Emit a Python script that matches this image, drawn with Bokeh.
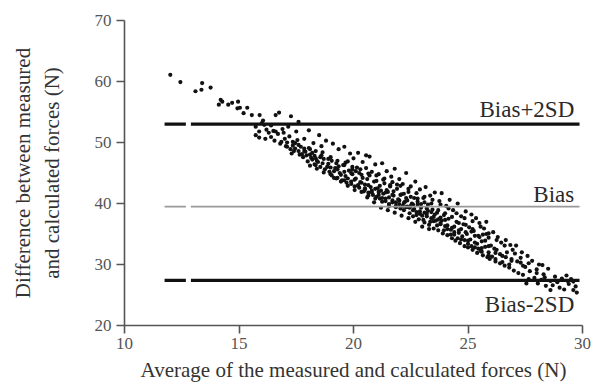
from bokeh.plotting import figure
from bokeh.models import Range1d, FixedTicker
from bokeh.core.properties import value
from bokeh.embed import file_html
from bokeh.resources import INLINE

# ---- data: average (x) and difference (y) of measured/calculated forces ----
avg_head = [12.0, 12.44, 13.1, 13.36, 13.39, 13.76, 14.2, 14.12, 14.27, 14.53,
            14.7, 14.96, 14.93, 15.04, 15.36, 15.2, 15.56, 15.9, 16.0, 15.73,
            15.88, 15.73, 15.88, 16.1, 16.2, 16.05, 16.3, 16.4, 16.15, 16.5]
diff_head = [61.1, 59.9, 58.4, 58.65, 59.75, 59.0, 57.0, 56.2, 56.7, 56.2,
             56.5, 56.7, 55.6, 55.7, 55.7, 54.8, 54.5, 54.5, 53.2, 52.6,
             51.8, 51.2, 50.8, 52.9, 52.1, 53.6, 51.6, 52.8, 50.6, 51.9]

avg_body = [16.6, 16.75, 17.27, 17.6, 16.55, 16.7, 16.8, 16.9, 17.0, 17.1,
            17.2, 17.3, 17.35, 17.45, 17.5, 16.95, 17.15, 17.4, 17.55, 17.65,
            17.7, 17.8, 17.85, 17.9, 18.0, 18.05, 18.1, 18.2, 18.25, 18.3,
            18.35, 18.4, 18.5, 18.55, 18.6, 18.7, 18.75, 18.8, 18.9, 18.95,
            19.0, 19.05, 19.1, 19.2, 19.25, 19.3, 19.35, 19.4, 19.5, 19.55,
            19.6, 19.65, 19.7, 19.75, 19.8, 19.85, 19.9, 19.95, 20.0, 20.05,
            20.1, 20.15, 20.2, 20.25, 20.3, 20.35, 20.4, 20.45, 20.5, 20.55,
            20.6, 20.65, 20.7, 20.75, 20.8, 20.85, 20.9, 20.95, 21.0, 21.05,
            21.1, 21.15, 21.2, 21.25, 21.3, 21.35, 21.4, 21.45, 21.5, 21.55,
            21.6, 21.65, 21.7, 21.75, 21.8, 21.85, 21.9, 21.95, 22.0, 22.05,
            22.1, 22.15, 22.2, 22.25, 22.3, 22.35, 22.4, 22.45, 22.5, 22.55,
            22.6, 22.65, 22.7, 22.75, 22.8, 22.85, 22.9, 22.95, 23.0, 23.05,
            23.1, 23.15, 23.2, 23.25, 23.3, 23.35, 23.4, 23.45, 23.5, 23.55,
            23.6, 23.65, 23.7, 23.75, 23.8, 23.85, 23.9, 23.95, 24.0, 24.05,
            24.1, 24.15, 24.2, 24.25, 24.3, 24.35, 24.4, 24.45, 24.5, 24.55,
            24.6, 24.65, 24.7, 24.75, 24.8, 24.85, 24.9, 24.95, 25.0, 25.05,
            25.1, 25.15, 25.2, 25.25, 25.3, 25.35, 25.4, 25.45, 25.5, 25.55,
            25.6, 25.65, 25.7, 25.75, 25.8, 25.85, 25.9, 25.95, 26.0, 26.1,
            26.2, 26.25, 26.3, 26.4, 26.45, 26.5, 26.6, 26.65, 26.7, 26.8,
            26.85, 26.9, 27.0, 27.05, 27.1, 27.2, 27.3, 27.35, 27.4, 27.5,
            27.6, 27.65, 27.7, 27.8, 27.9, 28.0, 28.05, 28.1, 28.2, 28.3,
            28.4, 28.5, 28.6, 28.6, 28.7, 28.8, 28.9, 29.0, 29.1, 29.2,
            29.3, 29.35, 29.4, 29.5, 29.6, 29.6, 29.7, 29.75, 28.25, 27.55]
diff_body = [54.5, 54.9, 54.3, 53.4, 50.3, 51.4, 49.8, 52.2, 50.6, 49.3,
             51.0, 48.2, 50.1, 49.0, 51.8, 51.6, 52.6, 48.6, 50.4, 48.0,
             49.3, 47.6, 50.6, 48.5, 46.9, 52.0, 48.0, 47.2, 49.9, 46.4,
             48.6, 47.0, 51.2, 46.0, 49.4, 47.3, 45.6, 50.3, 46.5, 45.2,
             47.6, 44.6, 49.8, 45.8, 44.1, 47.0, 48.9, 45.0, 43.8, 46.3,
             49.3, 44.5, 43.4, 46.9, 45.4, 48.2, 43.6, 44.8, 47.4, 42.8,
             44.1, 45.9, 48.3, 42.6, 43.5, 44.7, 46.8, 42.0, 43.1, 47.9,
             44.0, 41.8, 47.7, 42.7, 45.2, 41.4, 43.6, 46.4, 41.1, 42.5,
             44.8, 40.8, 42.1, 46.6, 41.6, 43.3, 40.4, 45.3, 41.9, 39.9,
             42.8, 44.4, 40.2, 41.3, 45.7, 39.6, 42.4, 40.7, 44.0, 39.2,
             41.5, 43.2, 38.9, 40.3, 45.0, 39.5, 41.9, 38.4, 42.8, 40.0,
             37.9, 39.1, 43.6, 38.6, 40.8, 37.4, 42.3, 39.3, 38.0, 40.9,
             36.9, 42.7, 38.3, 39.8, 36.5, 41.3, 37.6, 39.0, 35.9, 41.8,
             37.2, 38.5, 35.6, 40.4, 36.8, 41.7, 35.1, 38.1, 36.3, 39.6,
             34.8, 37.5, 40.6, 35.7, 34.3, 38.9, 36.2, 33.9, 37.0, 40.0,
             35.2, 33.5, 37.9, 34.6, 36.6, 33.0, 38.7, 35.0, 32.8, 36.1,
             34.1, 38.2, 32.4, 35.5, 33.6, 37.6, 31.9, 34.7, 36.8, 32.2,
             33.8, 31.5, 35.9, 32.9, 37.0, 31.2, 34.4, 30.9, 33.1, 35.3,
             30.5, 32.4, 34.5, 30.2, 33.6, 31.4, 29.8, 34.0, 32.0, 29.5,
             33.2, 30.6, 29.0, 31.8, 33.1, 28.6, 30.3, 32.0, 28.3, 29.6,
             31.4, 27.6, 28.9, 30.6, 27.8, 29.2, 26.9, 30.0, 27.5, 28.4,
             26.5, 29.3, 27.3, 25.8, 26.6, 28.0, 27.1, 26.2, 27.7, 25.9,
             28.2, 27.3, 26.8, 27.6, 25.8, 27.2, 26.4, 25.4, 29.9, 26.9]

avg_dense = [17.05, 17.25, 17.45, 17.6, 17.75, 17.95, 18.15, 18.3, 18.45, 18.65,
             18.85, 19.0, 19.15, 19.3, 19.45, 19.6, 19.75, 19.9, 20.05, 20.2,
             20.35, 20.5, 20.65, 20.8, 20.95, 21.1, 21.25, 21.4, 21.55, 21.7,
             21.85, 22.0, 22.15, 22.3, 22.45, 22.6, 22.75, 22.9, 23.05, 23.2,
             23.35, 23.5, 23.65, 23.8, 23.95, 24.1, 24.25, 24.4, 24.55, 24.7,
             24.85, 25.0, 25.15, 25.3, 25.45, 25.6, 25.75, 25.9, 26.05, 26.2,
             20.1, 20.4, 20.7, 21.0, 21.3, 21.6, 21.9, 22.2, 22.5, 22.8,
             23.1, 23.4, 23.7, 24.0, 24.3, 24.6, 24.9, 25.2, 25.5, 25.8,
             19.05, 19.35, 19.65, 19.95, 18.05, 18.35, 18.65, 17.85, 20.25, 20.55,
             21.15, 21.45, 21.75, 22.05, 22.35, 22.65, 22.95, 23.25, 23.55, 23.85]
diff_dense = [49.4, 48.9, 49.9, 48.6, 48.1, 47.9, 47.5, 47.8, 46.8, 46.6,
              46.0, 45.9, 45.3, 45.6, 44.7, 45.2, 44.1, 45.0, 43.9, 43.0,
              43.4, 42.5, 43.0, 42.1, 42.4, 41.9, 40.9, 41.8, 41.0, 41.4,
              40.2, 40.5, 39.6, 40.9, 39.3, 39.8, 38.1, 38.7, 37.3, 39.2,
              37.0, 37.8, 36.4, 37.7, 35.6, 36.4, 34.9, 35.3, 34.3, 35.8,
              34.0, 33.9, 33.0, 34.7, 32.6, 32.7, 33.9, 32.0, 31.3, 31.9,
              45.3, 44.2, 44.6, 43.7, 43.9, 43.0, 43.1, 41.6, 41.1, 40.3,
              40.2, 40.0, 38.9, 38.4, 37.8, 36.8, 36.5, 35.8, 34.5, 35.0,
              47.0, 46.1, 46.7, 46.0, 49.1, 47.4, 48.4, 49.0, 45.0, 45.8,
              42.9, 42.2, 42.0, 41.4, 40.5, 40.9, 39.9, 38.8, 38.2, 37.2]

avg_core = [18.1, 18.4, 18.7, 19.0, 19.3, 19.6, 19.9, 20.2, 20.5, 20.8,
            21.1, 21.4, 21.7, 22.0, 22.3, 22.6, 22.9, 23.2, 23.5, 23.8,
            24.1, 24.4, 24.7, 25.0, 25.3, 25.6, 25.9, 26.2, 26.5, 26.8,
            18.2, 18.55, 18.9, 19.25, 19.6, 19.95, 20.3, 20.65, 21.0, 21.35,
            21.7, 22.05, 22.4, 22.75, 23.1, 23.45, 23.8, 24.15, 24.5, 24.85,
            25.2, 25.55, 25.9, 26.25, 26.6, 26.95, 27.3, 27.65, 28.0, 28.35,
            16.4, 16.6, 16.85, 17.1, 17.35, 17.6, 17.85, 18.1, 18.35, 18.6,
            22.2, 22.5, 22.8, 23.1, 23.4, 23.7, 24.0, 24.3, 24.6, 24.9,
            25.15, 25.4, 25.65, 25.9, 26.15, 26.4, 26.65, 26.9, 27.15, 27.4,
            19.15, 19.45, 19.75, 20.05, 20.35, 20.65, 20.95, 21.25, 21.55, 21.85,
            20.6, 20.9, 21.2, 21.5, 21.8, 22.1, 22.4, 22.7, 23.0, 23.3]
diff_core = [46.2, 45.7, 45.1, 44.8, 44.2, 43.8, 43.2, 42.9, 42.3, 41.8,
             41.4, 40.8, 40.5, 39.9, 39.4, 38.9, 38.3, 37.9, 37.1, 36.6,
             35.8, 34.9, 34.1, 33.4, 32.8, 32.1, 31.5, 30.9, 30.4, 30.0,
             48.3, 47.6, 47.3, 46.6, 46.3, 45.6, 45.6, 44.9, 44.6, 44.1,
             43.5, 42.9, 42.4, 41.7, 41.1, 40.6, 39.8, 39.2, 38.4, 37.6,
             37.1, 36.2, 35.1, 34.0, 33.1, 32.4, 31.1, 30.2, 28.6, 27.9,
             50.9, 51.8, 50.1, 50.0, 49.5, 49.6, 48.6, 48.9, 46.3, 47.9,
             40.1, 39.6, 39.8, 38.5, 38.6, 37.4, 37.3, 36.0, 35.6, 35.3,
             35.4, 33.4, 34.9, 33.0, 32.6, 31.7, 31.2, 30.9, 30.5, 29.8,
             44.2, 43.6, 42.9, 42.2, 41.9, 41.3, 40.8, 40.3, 39.6, 39.4,
             41.0, 40.2, 39.3, 38.9, 38.5, 38.0, 37.6, 37.0, 36.2, 35.8]

line_names = ["Bias+2SD", "Bias", "Bias-2SD"]
line_levels = [53.0, 39.5, 27.4]
label_levels = [55.4, 41.5, 23.4]

x_ticks = [10, 15, 20, 25, 30]
y_ticks = [20, 30, 40, 50, 60, 70]

x_title = "Average of the measured and calculated forces (N)"
y_title = "Difference between measured\nand calculated forces (N)"

SERIF = "Liberation Serif"

p = figure(width=592, height=384, output_backend="svg", toolbar_location=None,
           x_range=Range1d(10, 30), y_range=Range1d(20, 70),
           min_border_left=124, min_border_right=10, min_border_top=20,
           min_border_bottom=54)
p.outline_line_color = None
p.grid.visible = False
p.background_fill_color = "white"

xs = avg_head + avg_body + avg_dense + avg_core
ys = diff_head + diff_body + diff_dense + diff_core
p.scatter(xs, ys, size=4.2, color="#111111", line_color=None)

# reference lines (with the short break near the left)
styles = [("#111111", 3.2), ("#999999", 1.8), ("#111111", 3.2)]
for lvl, (col, w) in zip(line_levels, styles):
    p.segment(x0=[11.75, 12.9], y0=[lvl, lvl], x1=[12.68, 29.87], y1=[lvl, lvl],
              line_color=col, line_width=w)

p.text(x=[29.64] * 3, y=label_levels, text=line_names,
       text_align="right", text_baseline="alphabetic",
       text_font=value(SERIF), text_font_size="23px", text_color="#2a2a2a")

for ax in (p.xaxis[0], p.yaxis[0]):
    ax.axis_line_color = "#555555"
    ax.axis_line_width = 1.6
    ax.major_tick_line_color = "#555555"
    ax.major_tick_line_width = 1.6
    ax.major_tick_out = 8
    ax.major_tick_in = 0
    ax.minor_tick_line_color = None
    ax.major_label_text_font = SERIF
    ax.major_label_text_font_size = "17px"
    ax.major_label_text_color = "#555555"
    ax.axis_label_text_font = SERIF
    ax.axis_label_text_font_style = "normal"
    ax.axis_label_text_font_size = "21px"
    ax.axis_label_text_color = "#333333"

p.xaxis.ticker = FixedTicker(ticks=x_ticks)
p.yaxis.ticker = FixedTicker(ticks=y_ticks)
p.xaxis.major_label_standoff = 4
p.yaxis.major_label_standoff = 5
p.xaxis.axis_label = x_title
p.xaxis.axis_label_standoff = 6
p.yaxis.axis_label = y_title
p.yaxis.axis_label_standoff = 28

open("out.html", "w").write(file_html(p, INLINE))
